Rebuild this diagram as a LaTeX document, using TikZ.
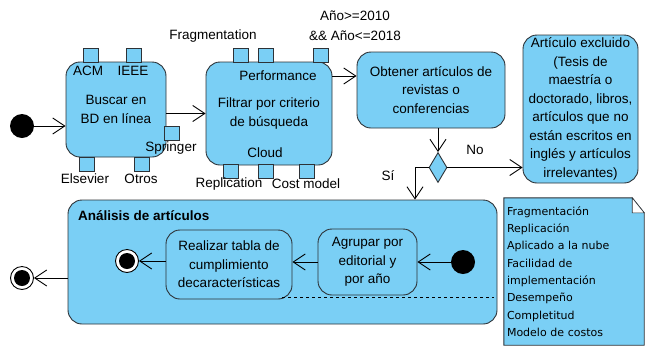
\documentclass[tikz,border=0pt]{standalone}
\usepackage{fontspec}
\setmainfont{Liberation Sans}
\newfontfamily\notefont{DejaVu Sans}
\usetikzlibrary{arrows.meta,shapes.geometric,backgrounds}
\definecolor{boxblue}{RGB}{122,207,245}
\definecolor{edgegray}{RGB}{45,50,55}
\tikzset{
  action/.style={draw=edgegray, fill=boxblue, rounded corners=14pt, align=center, inner sep=0pt, line width=0.9pt},
  pinbox/.style={draw=edgegray, fill=boxblue, minimum width=15pt, minimum height=14pt, inner sep=0pt, line width=0.8pt},
  pinlabel/.style={inner sep=0pt},
  decision/.style={diamond, draw=edgegray, fill=boxblue, minimum width=18pt, minimum height=30pt, inner sep=0pt, line width=0.9pt},
  flow/.style={-{Straight Barb[length=12pt,width=16pt]}, line width=0.9pt},
  initial/.style={circle, fill=black, minimum size=24pt, inner sep=0pt},
  final/.style={circle, draw=black, line width=0.9pt, fill=white, minimum size=23pt, inner sep=0pt,
    path picture={\fill[black] (path picture bounding box.center) circle (8pt);}},
  nota/.style={minimum width=140pt, minimum height=147pt, text width=134pt, inner xsep=3pt, inner ysep=0pt,
    align=left, font=\notefont\fontsize{11}{17.3}\selectfont}
}
\begin{document}
\begin{tikzpicture}[x=1pt, y=-1pt, font=\fontsize{13.5}{18.5}\selectfont]
\useasboundingbox (0,0) rectangle (647,346);

\node[initial] (inicio) at (22,126) {};
\node[action, minimum width=100pt, minimum height=95pt] (buscar) at (116,109.5) {Buscar en\\BD en línea};
\node[action, minimum width=126pt, minimum height=103pt] (filtrar) at (269,113.5) {Filtrar por criterio\\de búsqueda};
\node[action, minimum width=148pt, minimum height=76pt] (obtener) at (431,90) {Obtener artículos de\\revistas o\\conferencias};
\node[decision] (dec) at (438,167.5) {};
\node[action, minimum width=115pt, minimum height=148pt] (excluido) at (580.5,109) {Artículo excluido\\(Tesis de\\maestría o\\doctorado, libros,\\artículos que no\\están escritos en\\inglés y artículos\\irrelevantes)};

\node[pinbox] (pacm) at (90.5,55.5) {};
\node[pinbox] (pieee) at (133.5,55.5) {};
\node[pinbox] (pspringer) at (172,133) {};
\node[pinbox] (pelsevier) at (86.5,164) {};
\node[pinbox] (potros) at (142,164) {};
\node[pinlabel] (lacm) at (88,71) {ACM};
\node[pinlabel] (lieee) at (133,71) {IEEE};
\node[pinlabel] (lspringer) at (171,148) {Springer};
\node[pinlabel] (lelsevier) at (85,179) {Elsevier};
\node[pinlabel] (lotros) at (141,179) {Otros};

\node[pinbox] (pfrag) at (240.5,55.5) {};
\node[pinbox] (pperf) at (265.5,55.5) {};
\node[pinbox] (panio) at (320.5,55.5) {};
\node[pinbox] (prepl) at (230.5,171) {};
\node[pinbox] (pcloud) at (265.5,171) {};
\node[pinbox] (pcost) at (306.5,171) {};
\node[pinlabel] (lfrag) at (213,36) {Fragmentation};
\node[pinlabel] (lperf) at (278,76) {Performance};
\node[pinlabel, align=center, font=\fontsize{13.5}{20}\selectfont] (lanio) at (355,26) {Año>=2010\\\&\& Año<=2018};
\node[pinlabel] (lrepl) at (229,184) {Replication};
\node[pinlabel] (lcost) at (306,184) {Cost model};
\node[pinlabel] (lcloud) at (265,153) {Cloud};

\node[action, minimum width=429pt, minimum height=124pt] (analisis) at (282.5,262) {};
\node[anchor=west, inner sep=0pt, font=\fontsize{13.5}{15}\selectfont\bfseries] (titulo) at (78,216) {Análisis de artículos};
\node[final] (fin1) at (127,261) {};
\node[action, minimum width=126pt, minimum height=69pt] (realizar) at (229,264.5) {Realizar tabla de\\cumplimiento\\decaracterísticas};
\node[action, minimum width=99pt, minimum height=66pt] (agrupar) at (367.5,262) {Agrupar por\\editorial y\\por año};
\node[initial] (inicio2) at (463,262) {};
\node[final] (fin2) at (22,278) {};

\node[nota] (nota) at (574,271.5) {Fragmentación\\Replicación\\Aplicado a la nube\\Facilidad de\\implementación\\Desempeño\\Completitud\\Modelo de costos};
\begin{scope}[on background layer]
\draw[draw=edgegray, fill=boxblue, line width=0.9pt] (nota.north west) -- ([xshift=-12pt]nota.north east) -- ([yshift=-15pt]nota.north east) -- (nota.south east) -- (nota.south west) -- cycle;
\draw[draw=edgegray, fill=white, line width=0.6pt] ([xshift=-12pt]nota.north east) -- ([xshift=-12pt,yshift=-15pt]nota.north east) -- ([yshift=-15pt]nota.north east) -- cycle;
\end{scope}

\draw[flow] (inicio) -- (inicio -| buscar.west);
\draw[flow] (buscar.east |- filtrar) -- (filtrar.west);
\draw[flow] (filtrar.east |- lperf) -- (obtener.west |- lperf);
\draw[flow] (obtener.south -| dec) -- (dec.north);
\draw[flow] (dec.east) -- (dec.east -| excluido.west);
\node[pinlabel] (lno) at (475,150) {No};
\coordinate (codo) at (415,167.5);
\draw[flow] (dec.west) -- (codo) -- (codo |- analisis.north);
\node[pinlabel] (lsi) at (388,176) {Sí};
\draw[flow] (inicio2) -- (agrupar.east);
\draw[flow] (agrupar.west) -- (agrupar.west -| realizar.east);
\draw[flow] (realizar.west |- fin1) -- (fin1);
\draw[flow] (analisis.west |- fin2) -- (fin2);
\draw[dashed, line width=0.8pt] ([xshift=-10pt,yshift=2pt]realizar.south east) -- ([xshift=-10pt,yshift=2pt]realizar.south east -| nota.west);
\end{tikzpicture}
\end{document}
